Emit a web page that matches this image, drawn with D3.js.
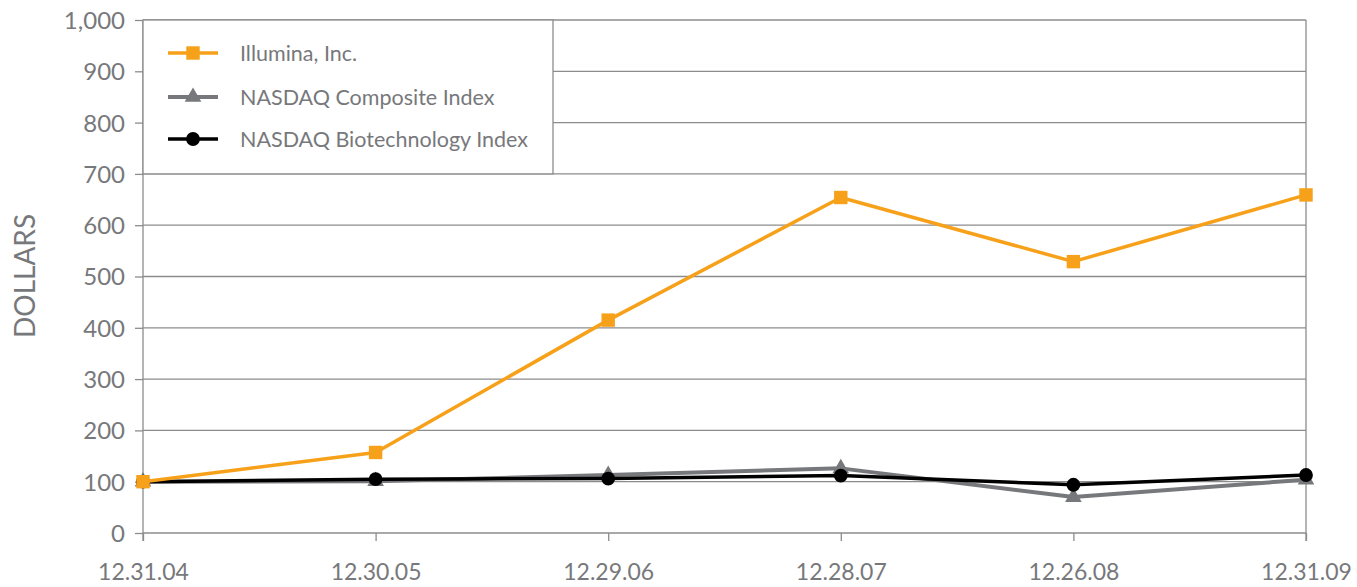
<!DOCTYPE html>
<html><head><meta charset="utf-8">
<script src="https://cdn.jsdelivr.net/npm/d3@7/dist/d3.min.js"></script>
<style>
html,body{margin:0;padding:0;background:#fff;}
svg text{font-family:Lato, "Open Sans", sans-serif;fill:#77787b;}
</style></head>
<body>
<svg id="chart" width="1357" height="587"></svg>
<script>
const dates = ["12.31.04","12.30.05","12.29.06","12.28.07","12.26.08","12.31.09"];
const illumina = [100, 157, 415, 654, 529, 659];
const nasdaqComposite = [100, 101, 113, 126, 70, 104];
const nasdaqBiotech = [100, 105, 106, 112, 94, 113];
const yTicks = [0,100,200,300,400,500,600,700,800,900,1000];
const seriesNames = ["Illumina, Inc.","NASDAQ Composite Index","NASDAQ Biotechnology Index"];

const svg = d3.select("#chart");
const m = {left:143, right:1306, top:20, bottom:533};
const x = d3.scalePoint().domain(dates).range([m.left, m.right]);
const y = d3.scaleLinear().domain([0,1000]).range([m.bottom, m.top]);
const gridColor = "#8c8c8c";

svg.append("g").selectAll("line").data(yTicks.filter(d=>d>0)).join("line")
  .attr("x1", m.left).attr("x2", m.right)
  .attr("y1", d=>y(d)).attr("y2", d=>y(d))
  .attr("stroke", gridColor).attr("stroke-width",1.3);
svg.append("line").attr("x1",m.right).attr("x2",m.right).attr("y1",m.top).attr("y2",m.bottom+8)
  .attr("stroke",gridColor).attr("stroke-width",1.3);

const yAxis = d3.axisLeft(y).tickValues(yTicks).tickSize(8).tickPadding(10)
  .tickFormat(d3.format(","));
const gy = svg.append("g").attr("transform",`translate(${m.left},0)`).call(yAxis);
gy.select(".domain").attr("d",`M0,${m.top}V${m.bottom+8}`).attr("stroke",gridColor).attr("stroke-width",1.3);
gy.selectAll(".tick line").attr("stroke",gridColor).attr("stroke-width",1.3);
gy.selectAll(".tick text").style("font-size","24px").attr("fill","#77787b").attr("dy","0.35em");

const xAxis = d3.axisBottom(x).tickSize(8).tickPadding(23);
const gx = svg.append("g").attr("transform",`translate(0,${m.bottom})`).call(xAxis);
gx.select(".domain").attr("d",`M${m.left},0H${m.right}`).attr("stroke",gridColor).attr("stroke-width",1.3);
gx.selectAll(".tick line").attr("stroke",gridColor).attr("stroke-width",1.3);
gx.selectAll(".tick text").style("font-size","23px").attr("fill","#77787b");

svg.append("text").attr("transform","translate(35,276) rotate(-90)")
  .attr("text-anchor","middle").style("font-size","28px").text("DOLLARS");

const lg = svg.append("g");
lg.append("rect").attr("x",m.left).attr("y",y(1000)).attr("width",553-m.left).attr("height",y(700)-y(1000))
  .attr("fill","#fff").attr("stroke",gridColor).attr("stroke-width",1.3);

const sym = [
  {color:"#f7a11a", width:3.5, shape:d3.symbolSquare, size:180},
  {color:"#77787b", width:4, shape:d3.symbolTriangle, size:120},
  {color:"#000000", width:3.5, shape:d3.symbolCircle, size:150}
];
const legendY = [53, 97, 139];
seriesNames.forEach((n,i)=>{
  const g = lg.append("g");
  g.append("line").attr("x1",168).attr("x2",218).attr("y1",legendY[i]).attr("y2",legendY[i])
    .attr("stroke",sym[i].color).attr("stroke-width",sym[i].width);
  g.append("path").attr("d",d3.symbol().type(sym[i].shape).size(sym[i].size)())
    .attr("transform",`translate(193,${legendY[i]})`).attr("fill",sym[i].color);
  g.append("text").attr("x",240).attr("y",legendY[i]).attr("dy","0.35em")
    .style("font-size","21.5px").text(n);
});

const data = [illumina, nasdaqComposite, nasdaqBiotech];
const order = [1,2,0];
const line = d3.line().x((d,i)=>x(dates[i])).y(d=>y(d));
order.forEach(si=>{
  const g = svg.append("g");
  g.append("path").datum(data[si]).attr("d",line).attr("fill","none")
    .attr("stroke",sym[si].color).attr("stroke-width",sym[si].width).attr("stroke-linejoin","round");
  g.selectAll("path.mk").data(data[si]).join("path").attr("class","mk")
    .attr("d",d3.symbol().type(sym[si].shape).size(sym[si].size)())
    .attr("transform",(d,i)=>`translate(${x(dates[i])},${y(d)})`)
    .attr("fill",sym[si].color);
});
</script>
</body></html>
